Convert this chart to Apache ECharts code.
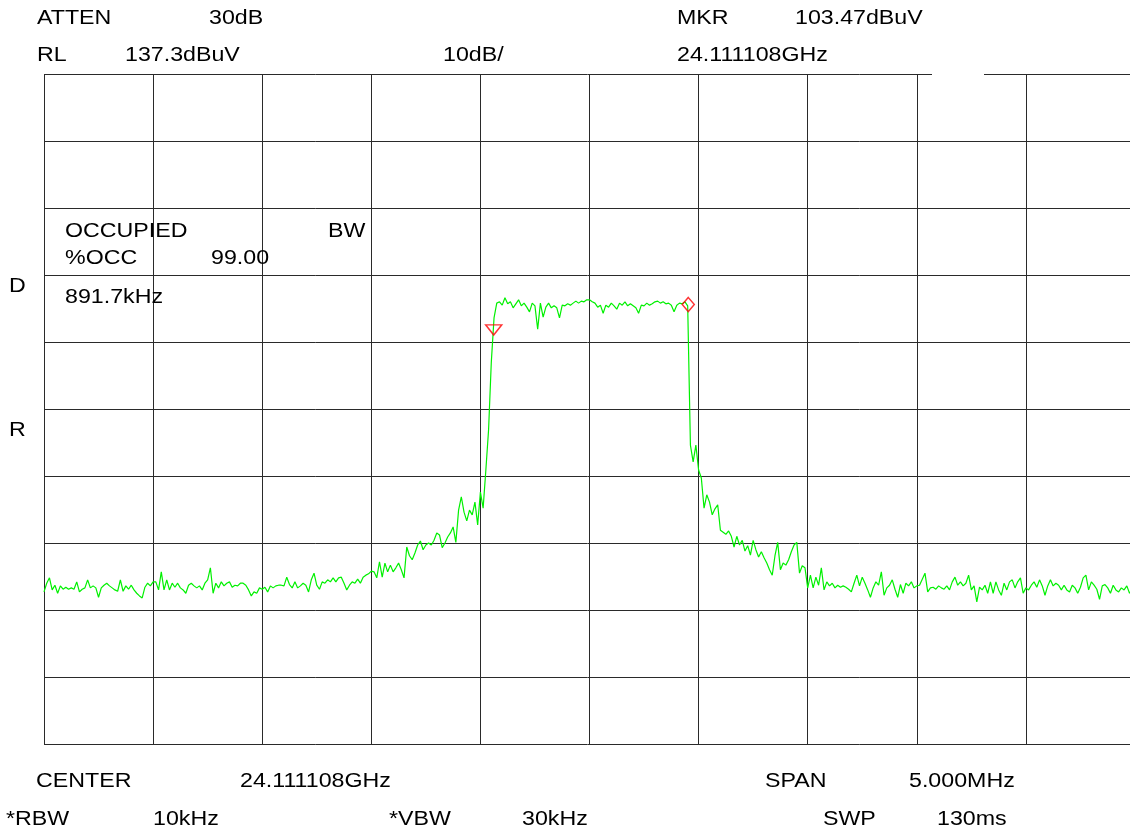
<!DOCTYPE html>
<html>
<head>
<meta charset="utf-8">
<script src="https://cdn.jsdelivr.net/npm/echarts@6/dist/echarts.min.js"></script>
<style>
  html, body { margin: 0; padding: 0; background: #fff; }
  #chart { width: 1130px; height: 834px; }
</style>
</head>
<body>
<div id="chart"></div>
<script>
// ---------- data ----------
const centerMHz = 0;          // offsets relative to CENTER 24.111108 GHz
const spanMHz = 5.0;
const sweepPoints = 401;
// trace level in dBuV, one value per sweep point
const traceLevels = [
  60.0, 61.3, 62.1, 60.3, 61.0, 59.8, 60.9, 60.4, 60.7, 60.4,
  60.6, 60.4, 61.5, 60.0, 60.4, 60.6, 61.8, 60.6, 60.9, 60.6,
  59.2, 60.6, 61.0, 61.3, 60.9, 60.6, 60.3, 60.1, 61.8, 60.1,
  60.9, 60.4, 61.0, 60.3, 59.8, 59.4, 59.1, 60.7, 61.3, 60.9,
  61.5, 61.5, 60.3, 63.0, 60.3, 61.8, 60.3, 61.3, 60.7, 61.3,
  60.6, 60.3, 59.8, 61.0, 61.3, 60.9, 60.6, 60.9, 60.3, 61.3,
  61.8, 63.6, 59.8, 61.3, 60.6, 61.5, 60.9, 61.3, 61.5, 60.7,
  61.0, 60.9, 61.3, 61.3, 61.0, 60.3, 59.4, 60.0, 59.8, 60.6,
  60.4, 60.7, 60.0, 60.9, 60.6, 60.9, 61.0, 61.0, 60.9, 62.2,
  61.1, 60.6, 61.5, 60.6, 60.9, 61.3, 61.0, 60.0, 61.8, 62.8,
  61.0, 60.4, 61.5, 61.3, 61.8, 61.5, 62.1, 61.5, 62.1, 62.2,
  61.3, 60.3, 61.0, 61.5, 61.3, 61.9, 61.3, 62.2, 62.5, 62.7,
  63.1, 63.0, 62.1, 64.5, 62.2, 64.3, 63.0, 64.0, 63.0, 63.6,
  64.3, 63.3, 62.1, 66.7, 65.4, 64.8, 65.8, 67.0, 67.6, 66.3,
  67.0, 67.3, 67.0, 67.7, 68.8, 68.5, 66.6, 67.3, 68.2, 68.8,
  69.7, 67.4, 72.2, 74.2, 71.9, 70.6, 72.2, 71.5, 73.4, 70.0,
  74.9, 72.5, 78.2, 84.2, 94.3, 100.9, 103.1, 103.3, 102.8, 103.9,
  103.0, 103.3, 102.4, 103.0, 103.6, 102.7, 103.1, 102.5, 101.8, 103.1,
  102.7, 99.2, 103.1, 101.0, 102.5, 103.1, 102.4, 102.7, 102.4, 100.9,
  102.8, 102.7, 103.0, 102.8, 103.1, 103.4, 103.1, 103.4, 103.3, 103.6,
  103.6, 103.3, 103.1, 102.5, 102.8, 101.6, 102.8, 102.5, 103.1, 102.7,
  102.2, 103.1, 102.8, 103.3, 102.7, 103.0, 102.7, 102.4, 101.6, 102.8,
  102.7, 103.1, 102.8, 103.0, 103.3, 103.4, 103.1, 103.3, 103.0, 103.1,
  102.8, 101.8, 102.8, 103.1, 103.0, 103.3, 102.7, 81.9, 79.4, 81.9,
  78.2, 77.0, 72.5, 74.5, 73.4, 71.5, 72.4, 73.0, 69.2, 68.9,
  68.6, 69.1, 68.3, 66.7, 68.3, 67.0, 67.7, 66.1, 66.9, 65.5,
  67.7, 66.3, 65.2, 66.0, 65.1, 64.3, 63.3, 62.5, 65.4, 67.4,
  63.3, 64.3, 64.0, 64.8, 66.0, 67.0, 67.4, 62.8, 63.9, 63.6,
  60.6, 62.5, 60.6, 62.2, 61.0, 63.6, 60.3, 61.5, 60.9, 61.3,
  60.6, 61.0, 60.7, 60.9, 60.7, 60.4, 60.0, 61.3, 62.5, 60.9,
  62.2, 61.3, 60.3, 59.2, 60.6, 61.5, 61.0, 63.0, 59.5, 60.6,
  61.0, 61.8, 60.4, 59.2, 61.1, 59.8, 61.3, 60.9, 61.5, 60.6,
  60.9, 61.0, 61.9, 62.8, 60.0, 60.6, 60.7, 60.4, 60.9, 60.6,
  60.4, 60.9, 60.3, 61.5, 62.2, 61.0, 61.5, 60.9, 61.3, 62.5,
  60.3, 60.9, 58.5, 60.7, 60.3, 61.0, 59.8, 61.5, 59.8, 61.5,
  60.3, 59.5, 61.3, 60.3, 61.5, 61.8, 60.6, 61.5, 62.1, 59.8,
  60.6, 60.3, 61.0, 61.5, 60.7, 61.8, 60.9, 59.5, 60.9, 61.8,
  60.9, 61.3, 61.0, 60.3, 61.0, 60.3, 60.0, 61.0, 60.6, 59.8,
  60.7, 62.1, 62.5, 60.3, 61.5, 61.0, 60.4, 58.9, 60.9, 61.1,
  60.6, 59.8, 61.0, 60.3, 60.0, 60.6, 60.3, 60.9, 59.8, 60.4,
  60.7
];
// markers: OBW lower edge (triangle) and MKR (diamond); offsets in MHz, levels in dBuV
const markerFreqs = [-0.439, 0.4527];
const markerLevels = [99.1, 102.9];
const markerKinds = ['obw', 'mkr'];
// axis scale
const refLevel = 137.3;       // RL dBuV
const dbPerDiv = 10;
const divisions = 10;

// texts
const topLabels = ['ATTEN', '30dB', 'MKR', '103.47dBuV', 'RL', '137.3dBuV', '10dB/', '24.111108GHz'];
const obwLabels = ['OCCUPIED', 'BW', '%OCC', '99.00', '891.7kHz'];
const sideLabels = ['D', 'R'];
const bottomLabels = ['CENTER', '24.111108GHz', 'SPAN', '5.000MHz', '*RBW', '10kHz', '*VBW', '30kHz', 'SWP', '130ms'];

// ---------- build ----------
const startMHz = centerMHz - spanMHz / 2;
const stopMHz = centerMHz + spanMHz / 2;
const traceData = traceLevels.map((v, i) => [startMHz + i * spanMHz / (sweepPoints - 1), v]);
const markerData = markerFreqs.map((f, i) => ({
  value: [f, markerLevels[i]],
  symbol: markerKinds[i] === 'obw' ? 'triangle' : 'diamond',
  symbolRotate: markerKinds[i] === 'obw' ? 180 : 0,
  symbolSize: markerKinds[i] === 'obw' ? [16, 10] : [12, 14]
}));

const FONT = '20px "Liberation Sans", Arial, sans-serif';
const SX = 1.16;
function txt(s, x, y) {
  return { type: 'text', x: x, y: y, scaleX: SX, z: 20,
    style: { text: s, font: FONT, fill: '#000', align: 'left', verticalAlign: 'middle' } };
}
const topPos = [[37, 18], [209, 18], [677, 18], [795, 18], [37, 55], [125, 55], [443, 55], [677, 55]];
const obwPos = [[65, 231], [328, 231], [65, 258], [211, 258], [65, 297]];
const sidePos = [[9, 286], [9, 430]];
const botPos = [[36, 781], [240, 781], [765, 781], [909, 781], [6, 819], [153, 819], [389, 819], [522, 819], [823, 819], [937, 819]];

const graphics = [];
topLabels.forEach((s, i) => graphics.push(txt(s, topPos[i][0], topPos[i][1])));
obwLabels.forEach((s, i) => graphics.push(txt(s, obwPos[i][0], obwPos[i][1])));
sideLabels.forEach((s, i) => graphics.push(txt(s, sidePos[i][0], sidePos[i][1])));
bottomLabels.forEach((s, i) => graphics.push(txt(s, botPos[i][0], botPos[i][1])));
// gap in the top border
graphics.push({ type: 'rect', z: 15, shape: { x: 932, y: 71, width: 52, height: 6 }, style: { fill: '#fff' } });

const gridColor = '#2a2a2a';
const chart = echarts.init(document.getElementById('chart'), null, { renderer: 'canvas' });
chart.setOption({
  animation: false,
  backgroundColor: '#fff',
  grid: { left: 44, top: 74, width: 1091, height: 670, containLabel: false, outerBoundsMode: 'none' },
  xAxis: {
    type: 'value', min: startMHz, max: stopMHz, interval: spanMHz / divisions,
    axisLine: { show: false }, axisTick: { show: false }, axisLabel: { show: false },
    splitLine: { show: true, lineStyle: { color: gridColor, width: 1 } }
  },
  yAxis: {
    type: 'value', min: refLevel - dbPerDiv * divisions, max: refLevel, interval: dbPerDiv,
    axisLine: { show: false }, axisTick: { show: false }, axisLabel: { show: false },
    splitLine: { show: true, lineStyle: { color: gridColor, width: 1 } }
  },
  graphic: graphics,
  series: [
    {
      type: 'line', data: traceData, showSymbol: false, symbol: 'none', z: 3,
      lineStyle: { color: '#00f000', width: 1.2 }
    },
    {
      type: 'scatter', data: markerData, z: 5,
      itemStyle: { color: 'rgba(255,255,255,0)', borderColor: '#ff0000', borderWidth: 1.5 }
    }
  ]
});
</script>
</body>
</html>
